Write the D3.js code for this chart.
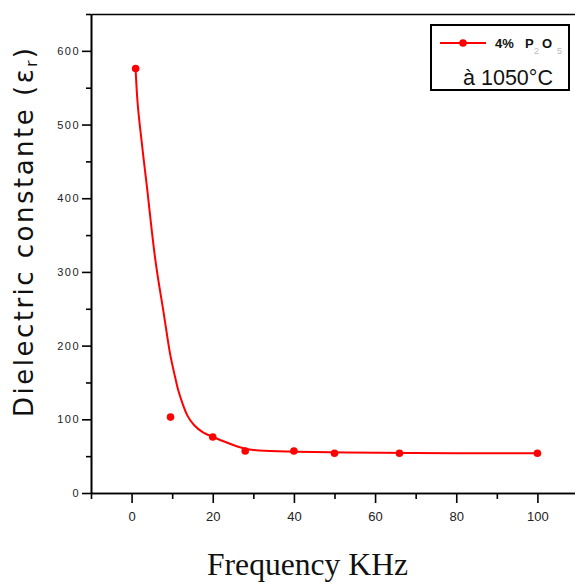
<!DOCTYPE html>
<html>
<head>
<meta charset="utf-8">
<script src="https://cdn.jsdelivr.net/npm/d3@7"></script>
<style>
  body { margin: 0; background: #fff; }
  svg { display: block; }
  .axis path, .axis line { stroke: #000; stroke-width: 1.6px; }
</style>
</head>
<body>
<div id="chart"></div>
<script>
// measured points (frequency in kHz, dielectric constant)
var freq = [1, 9.6, 20, 28, 40, 50, 66, 100];
var eps = [576, 103, 76, 57, 57, 54, 54, 54];

// fitted curve
var fitFreq = [1, 1.4, 2, 2.9, 3.9, 4.8, 5.9, 7.2, 8.2, 9.4, 10.8, 11.4, 12.5, 13.7, 15.3, 17.4, 20.1, 22.7, 26, 28.5, 32, 40, 53, 66, 100];
var fitEps = [574, 531, 500, 456, 411, 364, 312, 268, 235, 188, 156, 140, 122, 104, 92, 82, 76, 70, 63, 59, 57, 56, 55, 54, 54];

var xMajor = [0, 20, 40, 60, 80, 100];
var xMinor = [-10, 10, 30, 50, 70, 90, 110];
var yMajor = [0, 100, 200, 300, 400, 500, 600];
var yMinor = [50, 150, 250, 350, 450, 550, 650];

var width = 575;
var height = 582;

var svg = d3.select("#chart")
  .append("svg")
    .attr("width", width)
    .attr("height", height);

var x = d3.scaleLinear().domain([-10, 110]).range([91, 578]);
var y = d3.scaleLinear().domain([0, 650]).range([493, 14]);

/*
  AXES
*/

// minor ticks first so the major ones sit on top
svg.append("g")
  .attr("class", "axis")
  .attr("transform", "translate(0," + y(0) + ")")
  .call(d3.axisBottom(x).tickValues(xMinor).tickSize(6).tickSizeOuter(0).tickFormat(""));

svg.append("g")
  .attr("class", "axis")
  .attr("transform", "translate(" + x(-10) + ",0)")
  .call(d3.axisLeft(y).tickValues(yMinor).tickSize(5).tickSizeOuter(0).tickFormat(""));

var xAxis = svg.append("g")
  .attr("class", "axis")
  .attr("transform", "translate(0," + y(0) + ")")
  .call(d3.axisBottom(x).tickValues(xMajor).tickSize(10).tickSizeOuter(0).tickPadding(9));

xAxis.selectAll("text")
  .style("font-family", "Liberation Sans, Arial, sans-serif")
  .style("font-size", "13px")
  .attr("fill", "#222");

var yAxis = svg.append("g")
  .attr("class", "axis")
  .attr("transform", "translate(" + x(-10) + ",0)")
  .call(d3.axisLeft(y).tickValues(yMajor).tickSize(9).tickSizeOuter(0).tickPadding(2));

yAxis.selectAll("text")
  .style("font-family", "Liberation Sans, Arial, sans-serif")
  .style("font-size", "11px")
  .style("letter-spacing", "1.5px")
  .attr("fill", "#222");

// top and right spines
svg.append("g")
  .attr("class", "axis")
  .attr("transform", "translate(0," + y(650) + ")")
  .call(d3.axisTop(x).tickValues([]).tickSizeOuter(0));

svg.append("g")
  .attr("class", "axis")
  .attr("transform", "translate(" + x(110) + ",0)")
  .call(d3.axisRight(y).tickValues([]).tickSizeOuter(0));

/*
  CURVE AND POINTS
*/

var fit = fitFreq.map(function(f, i) { return [f, fitEps[i]]; });

var line = d3.line()
  .x(function(d) { return x(d[0]); })
  .y(function(d) { return y(d[1]); })
  .curve(d3.curveBasis);

svg.append("path")
  .datum(fit)
  .attr("d", line)
  .attr("fill", "none")
  .attr("stroke", "#ff0000")
  .attr("stroke-width", 2);

svg.selectAll(".pt")
  .data(freq)
  .enter()
  .append("circle")
    .attr("class", "pt")
    .attr("cx", function(d) { return x(d); })
    .attr("cy", function(d, i) { return y(eps[i]); })
    .attr("r", 3.8)
    .attr("fill", "#ff0000");

/*
  TITLES
*/

var yTitle = svg.append("text")
  .attr("transform", "translate(33,232.5) rotate(-90)")
  .attr("text-anchor", "middle")
  .attr("textLength", 369)
  .attr("lengthAdjust", "spacing")
  .style("font-family", "DejaVu Sans, sans-serif")
  .style("font-size", "26px")
  .attr("fill", "#111");

yTitle.append("tspan").text("Dielectric constante (ε");
yTitle.append("tspan").attr("font-size", "15px").attr("dy", 4).text("r");
yTitle.append("tspan").attr("dy", -4).text(")");

svg.append("text")
  .attr("x", 307.5)
  .attr("y", 575)
  .attr("text-anchor", "middle")
  .attr("textLength", 201)
  .attr("lengthAdjust", "spacingAndGlyphs")
  .style("font-family", "Liberation Serif, Times New Roman, serif")
  .style("font-size", "31px")
  .attr("fill", "#111")
  .text("Frequency KHz");

/*
  LEGEND
*/

var legend = svg.append("g");

legend.append("rect")
  .attr("x", 431)
  .attr("y", 25)
  .attr("width", 138)
  .attr("height", 65)
  .attr("fill", "#fff")
  .attr("stroke", "#000")
  .attr("stroke-width", 2);

legend.append("line")
  .attr("x1", 440).attr("x2", 486)
  .attr("y1", 43).attr("y2", 43)
  .attr("stroke", "#ff0000")
  .attr("stroke-width", 2);

legend.append("circle")
  .attr("cx", 463).attr("cy", 43)
  .attr("r", 3.8)
  .attr("fill", "#ff0000");

var lab = legend.append("text")
  .style("font-family", "Liberation Sans, Arial, sans-serif")
  .style("font-size", "13px")
  .style("font-weight", "bold")
  .attr("fill", "#111");

lab.append("tspan").attr("x", 495).attr("y", 48).text("4%");
lab.append("tspan").attr("x", 525).attr("y", 48).text("P");
lab.append("tspan").attr("x", 534).attr("y", 54).attr("font-size", "9px").attr("font-weight", "normal").attr("fill", "#bbb").text("2");
lab.append("tspan").attr("x", 542).attr("y", 48).text("O");
lab.append("tspan").attr("x", 557).attr("y", 54).attr("font-size", "9px").attr("font-weight", "normal").attr("fill", "#bbb").text("5");

legend.append("text")
  .attr("x", 463)
  .attr("y", 85)
  .attr("textLength", 90)
  .attr("lengthAdjust", "spacingAndGlyphs")
  .style("font-family", "Liberation Sans, Arial, sans-serif")
  .style("font-size", "22px")
  .attr("fill", "#111")
  .text("à 1050°C");
</script>
</body>
</html>
